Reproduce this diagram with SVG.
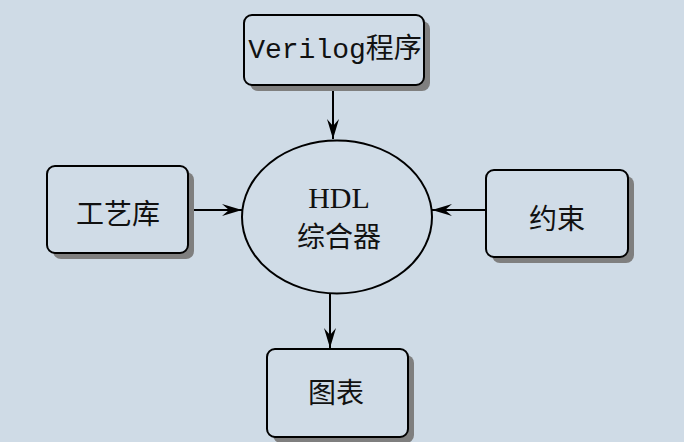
<svg xmlns="http://www.w3.org/2000/svg" width="684" height="442" viewBox="0 0 684 442">
<defs>
<marker id="ah" viewBox="0 0 20 12" refX="20" refY="6" markerWidth="20" markerHeight="12" markerUnits="userSpaceOnUse" orient="auto">
<path d="M0,0 L20,6 L0,12 L7,6 Z" fill="#000"/>
</marker>
</defs>
<style>
.box{fill:#d0dce7;stroke:#000;stroke-width:2}
.sh{fill:#7f7f7f}
.t{font-family:"Noto Sans CJK SC",sans-serif;font-size:28px;fill:#111;text-anchor:middle}
.c{stroke:#000;stroke-width:2;fill:none;marker-end:url(#ah)}
</style>
<rect width="684" height="442" fill="#cfdbe6"/>
<g id="connectors">
<line class="c" x1="333" y1="86" x2="333" y2="139"/>
<line class="c" x1="189" y1="210" x2="242" y2="210"/>
<line class="c" x1="486" y1="210" x2="432" y2="210"/>
<line class="c" x1="330" y1="294" x2="330" y2="348"/>
</g>
<g id="verilog">
<rect class="sh" x="250" y="21" width="180" height="70" rx="8"/>
<rect class="box" x="244" y="15" width="180" height="70" rx="8"/>
<text x="335" y="58" style="font-family:'Liberation Mono','Noto Sans CJK SC',monospace;font-size:28px;fill:#111" text-anchor="middle">Verilog程序</text>
</g>
<g id="gongyiku">
<rect class="sh" x="53" y="172" width="141" height="87" rx="8"/>
<rect class="box" x="47" y="166" width="141" height="87" rx="8"/>
<text class="t" x="118" y="224">工艺库</text>
</g>
<g id="yueshu">
<rect class="sh" x="492" y="176" width="142" height="87" rx="8"/>
<rect class="box" x="486" y="170" width="142" height="87" rx="8"/>
<text class="t" x="557" y="229">约束</text>
</g>
<g id="tubiao">
<rect class="sh" x="273" y="355" width="141" height="88" rx="8"/>
<rect class="box" x="267" y="349" width="141" height="88" rx="8"/>
<text class="t" x="336" y="403">图表</text>
</g>
<g id="hdl">
<ellipse cx="337" cy="217" rx="95" ry="76.5" fill="#d0dce7" stroke="#000" stroke-width="2"/>
<text x="339" y="208" style="font-family:'Liberation Serif',serif;font-size:30px;fill:#111" text-anchor="middle">HDL</text>
<text class="t" x="339" y="247">综合器</text>
</g>
</svg>
